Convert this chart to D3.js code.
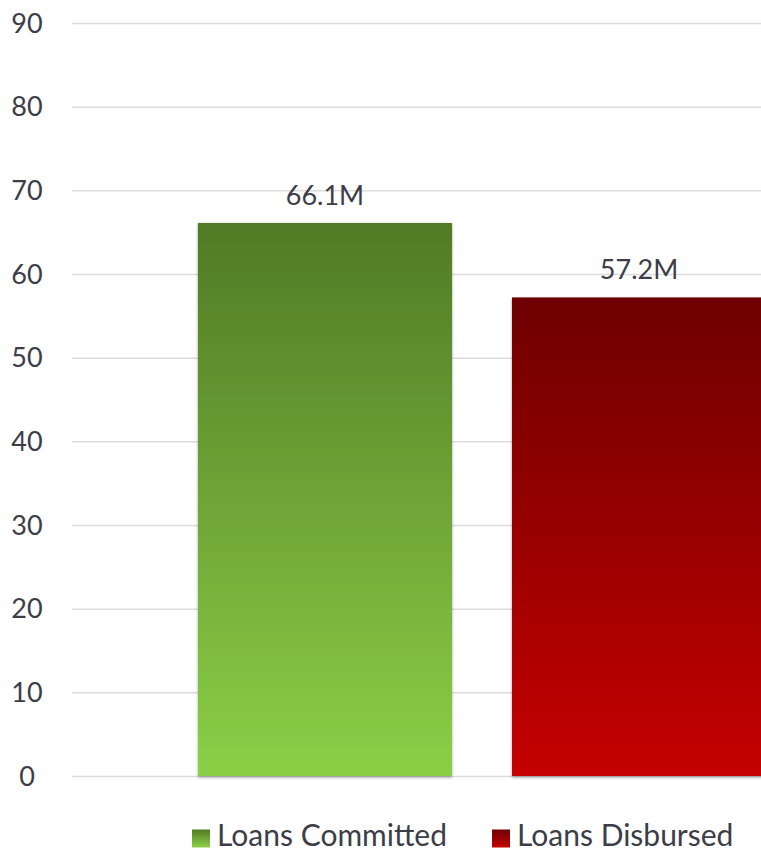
<!DOCTYPE html>
<html>
<head>
<meta charset="utf-8">
<script src="https://cdn.jsdelivr.net/npm/d3@7"></script>
<style>
  body { margin: 0; background: #fff; }
  svg { display: block; }
  text { font-family: "Lato", "Open Sans", sans-serif; fill: #3d3d48; }
  .grid line { stroke: #dcdcdc; stroke-width: 1.5; }
  .grid .domain { display: none; }
</style>
</head>
<body>
<div id="chart"></div>
<script>
// chart values
const categories = ['Loans Committed', 'Loans Disbursed'];
const values = [66.1, 57.2];
const valueLabels = ['66.1M', '57.2M'];
const yTicks = [0, 10, 20, 30, 40, 50, 60, 70, 80, 90];
const colorsTop = ['#517a26', '#6e0000'];
const colorsBottom = ['#8ccf46', '#c50000'];

const width = 761, height = 853;
const margin = { top: 23, left: 72, bottom: 77 };

const svg = d3.select('#chart').append('svg')
    .attr('width', width)
    .attr('height', height);

const defs = svg.append('defs');
categories.forEach((c, i) => {
    const g = defs.append('linearGradient')
        .attr('id', 'grad' + i)
        .attr('x1', 0).attr('y1', 0).attr('x2', 0).attr('y2', 1);
    g.append('stop').attr('offset', '0%').attr('stop-color', colorsTop[i]);
    g.append('stop').attr('offset', '100%').attr('stop-color', colorsBottom[i]);
});
const shadow = defs.append('filter').attr('id', 'shadow')
    .attr('x', '-5%').attr('y', '-5%').attr('width', '110%').attr('height', '110%');
shadow.append('feDropShadow')
    .attr('dx', 0).attr('dy', 1.5).attr('stdDeviation', 1.8)
    .attr('flood-color', '#000').attr('flood-opacity', 0.35);

const y = d3.scaleLinear()
    .domain([0, 90])
    .range([height - margin.bottom, margin.top]);

// band scale runs past the right edge, second bar gets clipped
const x = d3.scaleBand()
    .domain(categories)
    .range([margin.left, 892])
    .paddingInner(0.191)
    .paddingOuter(0.401);

// gridlines
svg.append('g')
    .attr('class', 'grid')
    .attr('transform', `translate(${margin.left},0)`)
    .call(d3.axisLeft(y).tickValues(yTicks).tickSize(-(width - margin.left)).tickFormat(''));

// tick labels
svg.selectAll('.ylabel')
    .data(yTicks)
    .enter().append('text')
    .attr('class', 'ylabel')
    .attr('x', 27)
    .attr('y', d => y(d))
    .attr('dy', '0.36em')
    .attr('text-anchor', 'middle')
    .style('font-size', '27px')
    .text(d => d);

// bars
svg.selectAll('.bar')
    .data(values)
    .enter().append('rect')
    .attr('class', 'bar')
    .attr('x', (d, i) => x(categories[i]))
    .attr('y', d => y(d))
    .attr('width', x.bandwidth())
    .attr('height', d => y(0) - y(d))
    .attr('fill', (d, i) => `url(#grad${i})`)
    .attr('filter', 'url(#shadow)');

// value labels
svg.selectAll('.vlabel')
    .data(values)
    .enter().append('text')
    .attr('class', 'vlabel')
    .attr('x', (d, i) => x(categories[i]) + x.bandwidth() / 2)
    .attr('y', d => y(d) - 18)
    .attr('text-anchor', 'middle')
    .style('font-size', '27px')
    .text((d, i) => valueLabels[i]);

// legend
const legendX = [192, 492];
const legend = svg.selectAll('.legend')
    .data(categories)
    .enter().append('g')
    .attr('class', 'legend')
    .attr('transform', (d, i) => `translate(${legendX[i]},838)`);
legend.append('rect')
    .attr('x', 0).attr('y', -8.5)
    .attr('width', 18).attr('height', 18)
    .attr('fill', (d, i) => `url(#grad${i})`);
legend.append('text')
    .attr('x', 25)
    .attr('y', 8)
    .style('font-size', '30px')
    .text(d => d);
</script>
</body>
</html>
